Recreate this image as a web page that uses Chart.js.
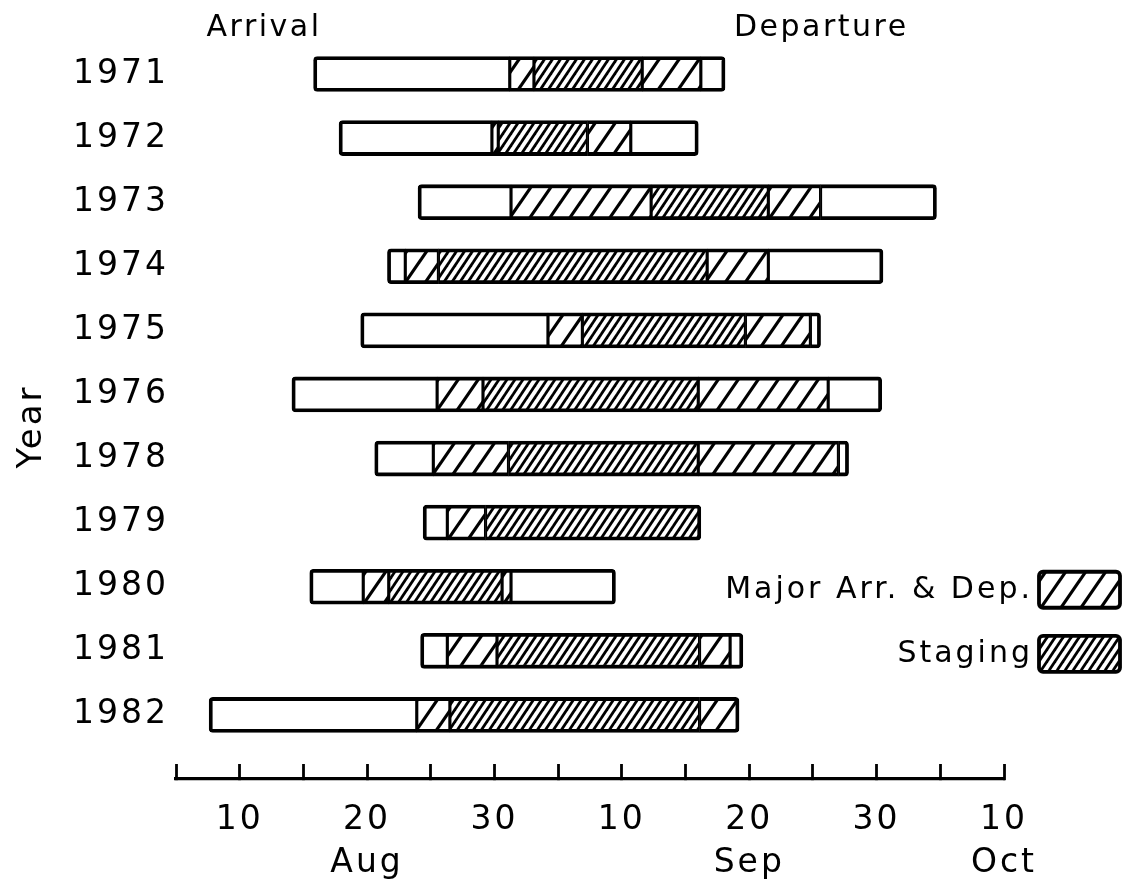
<!DOCTYPE html>
<html>
<head>
<meta charset="utf-8">
<script src="https://cdn.jsdelivr.net/npm/chart.js@4.4.1/dist/chart.umd.min.js"></script>
<style>
  html, body { margin: 0; padding: 0; background: #fff; }
  #wrap { width: 1131px; height: 891px; }
</style>
</head>
<body>
<div id="wrap"><canvas id="c" width="1131" height="891"></canvas></div>
<script>
// Day index used on the date axis: Aug d -> d, Sep d -> 30 + d, Oct d -> 60 + d
const years = ['1971', '1972', '1973', '1974', '1975', '1976', '1978', '1979', '1980', '1981', '1982'];
const firstSeen     = [15.8, 17.8, 24.0, 21.6, 19.5, 14.1, 20.6, 24.4, 15.5, 24.2,  7.6];
const majorArrStart = [31.2, 29.8, 31.3, 23.0, 34.2, 25.5, 25.2, 26.3, 19.7, 26.3, 23.9];
const stagingStart  = [33.1, 30.3, 42.3, 25.6, 36.9, 29.1, 31.1, 29.3, 21.7, 30.2, 26.5];
const stagingEnd    = [41.6, 37.3, 51.5, 46.7, 49.7, 46.0, 46.0, 46.2, 30.6, 46.1, 46.1];
const majorDepEnd   = [46.2, 40.7, 55.6, 51.5, 54.8, 56.2, 57.0, null, 31.3, 48.5, 49.2];
const lastSeen      = [48.1, 46.0, 64.7, 60.5, 55.6, 60.4, 57.8, null, 39.5, 49.5, null];

// Labelled ticks on the date axis
const tickValues = [10, 20, 30, 40, 50, 60, 70];
const tickDays   = ['10', '20', '30', '10', '20', '30', '10'];
const tickMonths = ['', 'Aug', '', '', 'Sep', '', 'Oct'];

// Headings above the bars, placed at a day index
const headings = [
  { text: 'Arrival', day: 7.4 },
  { text: 'Departure', day: 48.8 }
];

const FONT = 'DejaVu Sans';
const INK = '#000';

function hatch(step, rise, lineWidth) {
  const c = document.createElement('canvas');
  c.width = step; c.height = rise;
  const g = c.getContext('2d');
  g.fillStyle = '#fff';
  g.fillRect(0, 0, step, rise);
  g.strokeStyle = INK;
  g.lineWidth = lineWidth;
  for (let k = 0; k <= 2; k++) {
    g.beginPath();
    g.moveTo(step * k - 2 * step, 2 * rise);
    g.lineTo(step * k + step, -rise);
    g.stroke();
  }
  return g.createPattern(c, 'repeat');
}
const wideHatch = hatch(20, 29, 3.2);
const denseHatch = hatch(8, 12, 2.8);

function span(a, b) {
  return years.map((_, i) => (a[i] == null || b[i] == null) ? null : [a[i], b[i]]);
}

const segments = [
  { label: 'Arrival', data: span(firstSeen, majorArrStart), backgroundColor: '#fff' },
  { label: 'Major Arr. & Dep.', data: span(majorArrStart, stagingStart), backgroundColor: wideHatch },
  { label: 'Staging', data: span(stagingStart, stagingEnd), backgroundColor: denseHatch },
  { label: 'Major Arr. & Dep.', data: span(stagingEnd, majorDepEnd), backgroundColor: wideHatch },
  { label: 'Departure', data: span(majorDepEnd, lastSeen), backgroundColor: '#fff' }
];

// first and last drawn segment of every row
const rowEnds = years.map((_, i) => {
  const present = segments.map((s, d) => s.data[i] ? d : -1).filter(d => d >= 0);
  return { first: present[0], last: present[present.length - 1] };
});

const EDGE = 3.8;
function segBorder(ctx) {
  if (ctx.dataIndex === undefined) return EDGE;
  const e = rowEnds[ctx.dataIndex];
  return {
    top: EDGE, bottom: EDGE,
    left: ctx.datasetIndex === e.first ? EDGE : 1.9,
    right: ctx.datasetIndex === e.last ? EDGE : 1.9
  };
}
function segRadius(ctx) {
  if (ctx.dataIndex === undefined) return 0;
  const e = rowEnds[ctx.dataIndex];
  const r = 4;
  return {
    topLeft: ctx.datasetIndex === e.first ? r : 0,
    bottomLeft: ctx.datasetIndex === e.first ? r : 0,
    topRight: ctx.datasetIndex === e.last ? r : 0,
    bottomRight: ctx.datasetIndex === e.last ? r : 0
  };
}

const datasets = segments.map(s => ({
  label: s.label,
  data: s.data,
  backgroundColor: s.backgroundColor,
  borderColor: INK,
  borderWidth: segBorder,
  borderRadius: segRadius,
  borderSkipped: false,
  grouped: false,
  barThickness: 35,
  clip: false
}));

// wider letter spacing for all canvas text
const spacing = {
  id: 'spacing',
  beforeLayout(chart) { chart.ctx.letterSpacing = '3px'; },
  beforeDraw(chart) { chart.ctx.letterSpacing = '3px'; }
};

// headings and the hatch key
const annotations = {
  id: 'annotations',
  afterDraw(chart) {
    const ctx = chart.ctx;
    const xs = chart.scales.x, ys = chart.scales.y;
    ctx.save();
    ctx.fillStyle = INK;
    ctx.letterSpacing = '2.5px';
    ctx.font = '30px "' + FONT + '"';
    ctx.textAlign = 'left';
    ctx.textBaseline = 'alphabetic';
    headings.forEach(h => ctx.fillText(h.text, xs.getPixelForValue(h.day), chart.chartArea.top - 38));

    ctx.letterSpacing = '3px';
    const key = [
      { ds: chart.data.datasets[1], row: '1980' },
      { ds: chart.data.datasets[2], row: '1981' }
    ];
    const boxW = 81, boxH = 36;
    const boxX = chart.width - 11 - boxW;
    key.forEach(k => {
      const cy = ys.getPixelForValue(years.indexOf(k.row)) + 3;
      ctx.beginPath();
      ctx.roundRect(boxX, cy - boxH / 2, boxW, boxH, 4);
      ctx.fillStyle = k.ds.backgroundColor;
      ctx.fill();
      ctx.lineWidth = EDGE;
      ctx.strokeStyle = INK;
      ctx.stroke();
      ctx.fillStyle = INK;
      ctx.textAlign = 'right';
      ctx.textBaseline = 'middle';
      ctx.fillText(k.ds.label, boxX - 6, cy);
    });
    ctx.restore();
  }
};

new Chart(document.getElementById('c'), {
  type: 'bar',
  data: { labels: [...years, ''], datasets },
  options: {
    indexAxis: 'y',
    responsive: false,
    animation: false,
    events: [],
    layout: { padding: { top: 74, right: 127, left: 0, bottom: 0 } },
    plugins: { legend: { display: false }, tooltip: { enabled: false } },
    scales: {
      x: {
        type: 'linear',
        position: 'bottom',
        min: 5,
        max: 70,
        afterFit(s) { s.height = 112; },
        grid: { drawOnChartArea: false, drawTicks: true, tickLength: -15, tickWidth: 2.8, tickColor: INK },
        border: { display: true, color: INK, width: 3.2 },
        ticks: {
          stepSize: 5,
          autoSkip: false,
          maxRotation: 0,
          color: INK,
          padding: 35,
          font: { family: FONT, size: 33, lineHeight: 1.3 },
          callback(v) {
            const k = tickValues.indexOf(v);
            if (k < 0) return '';
            return tickMonths[k] ? [tickDays[k], tickMonths[k]] : tickDays[k];
          }
        }
      },
      y: {
        type: 'category',
        offset: false,
        afterFit(s) { s.width = 176; },
        grid: { display: false, drawTicks: false },
        border: { display: false },
        ticks: { color: INK, padding: 7, autoSkip: false, font: { family: FONT, size: 33 } },
        title: {
          display: true, text: 'Year', color: INK,
          font: { family: FONT, size: 34, lineHeight: 1.2 },
          padding: { top: 12, bottom: 0 }
        }
      }
    }
  },
  plugins: [spacing, annotations]
});
</script>
</body>
</html>
